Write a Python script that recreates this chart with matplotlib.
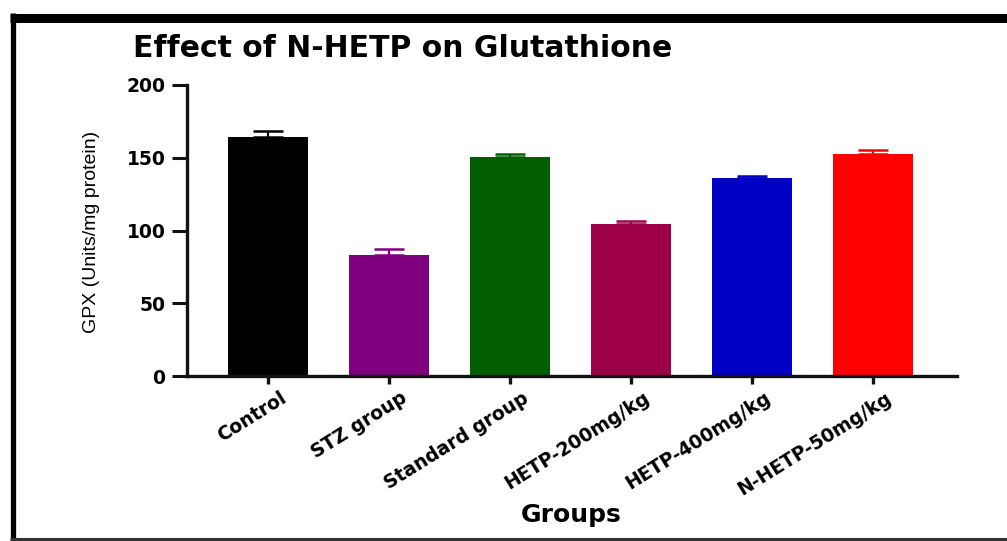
import matplotlib
matplotlib.use("Agg")
import matplotlib.pyplot as plt
from matplotlib import font_manager
from matplotlib.transforms import ScaledTranslation
from matplotlib.lines import Line2D

# ---- data ----
categories = ["Control", "STZ group", "Standard group", "HETP-200mg/kg",
              "HETP-400mg/kg", "N-HETP-50mg/kg"]
gpx_values = [164.3, 83.2, 150.3, 104.3, 135.9, 152.6]
gpx_errors = [4.1, 3.8, 2.6, 2.3, 1.7, 2.6]
bar_colors = ["#000000", "#7E007E", "#005E00", "#9E0048", "#0000C4", "#FF0000"]
yticks = [0, 50, 100, 150, 200]

def have(name):
    try:
        font_manager.findfont(name, fallback_to_default=False)
        return True
    except Exception:
        return False

narrow = "Liberation Sans Narrow" if have("Liberation Sans Narrow") else "Liberation Sans"
bold_font = "DejaVu Sans"

W, H = 1007, 541
fig = plt.figure(figsize=(W / 100, H / 100), dpi=100)
fig.patch.set_facecolor("white")

ax = fig.add_axes([187 / W, 1 - 376 / H, (957 - 187) / W, (376 - 85) / H])
x = list(range(len(categories)))
bars = ax.bar(x, gpx_values, width=0.66, color=bar_colors, zorder=2)
for xi, v, e, c in zip(x, gpx_values, gpx_errors, bar_colors):
    ax.errorbar(xi, v, yerr=[[0], [e]], fmt="none", ecolor=c, elinewidth=1.6,
                capsize=10.5, capthick=1.8, zorder=3)

ax.set_xlim(-0.665, 5.69)
ax.set_ylim(0, 200)
ax.set_yticks(yticks)
ax.set_yticklabels([str(t) for t in yticks], fontfamily=bold_font,
                   fontweight="bold", fontsize=13.5)
for s in ["top", "right"]:
    ax.spines[s].set_visible(False)
for s in ["left", "bottom"]:
    ax.spines[s].set_linewidth(2.4)
    ax.spines[s].set_color("#111111")
ax.tick_params(axis="y", direction="out", length=10.5, width=2.2, pad=5,
               color="#111111")
ax.tick_params(axis="x", direction="out", length=6, width=2.4, pad=3,
               color="#111111")
ax.set_xticks(x)
ax.set_xticklabels(categories, rotation=32, ha="right", va="top",
                   rotation_mode="anchor", fontfamily=bold_font,
                   fontweight="bold", fontsize=13.5)
off = ScaledTranslation(12 / 100, 0, fig.dpi_scale_trans)
for lab in ax.get_xticklabels():
    lab.set_transform(lab.get_transform() + off)

fig.text(133 / W, 1 - 57 / H, "Effect of N-HETP on Glutathione",
         fontfamily=bold_font, fontweight="bold", fontsize=21.5,
         ha="left", va="baseline")
fig.text(571 / W, 1 - 522 / H, "Groups", fontfamily=bold_font,
         fontweight="bold", fontsize=18, ha="center", va="baseline")
fig.text(92 / W, 1 - 232 / H, "GPX (Units/mg protein)", fontfamily=narrow,
         fontsize=14, rotation=90, ha="center", va="center")

# frame lines around the picture
fig.add_artist(Line2D([10 / W, 1.0], [1 - 17.5 / H, 1 - 17.5 / H],
                      transform=fig.transFigure, color="black", lw=6.5,
                      solid_capstyle="butt"))
fig.add_artist(Line2D([12.5 / W, 12.5 / W], [1 - 13 / H, 0],
                      transform=fig.transFigure, color="black", lw=3.8,
                      solid_capstyle="butt"))
fig.add_artist(Line2D([10 / W, 1.0], [2 / H, 2 / H],
                      transform=fig.transFigure, color="#333333", lw=2.2,
                      solid_capstyle="butt"))

fig.savefig("out.png", dpi=100, facecolor="white")
